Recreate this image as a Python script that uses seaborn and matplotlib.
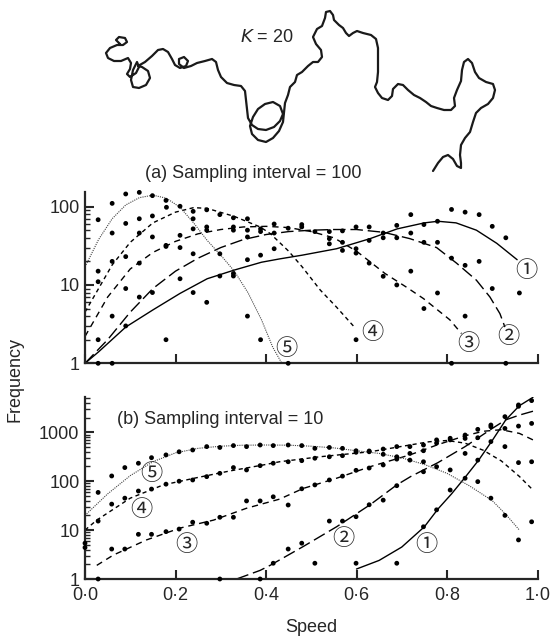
import numpy as np
import pandas as pd
import matplotlib
matplotlib.use("Agg")
import matplotlib.pyplot as plt
import seaborn as sns

# ---- trajectory (K = 20), traced in picture pixels ----
walk_x = [120, 116, 119, 125, 127, 123, 117, 110, 106, 108, 114, 121, 128, 131, 130, 127,
          130, 136, 139, 137, 133, 131, 133, 139, 146, 150, 148, 142, 138, 145, 152, 158,
          163, 168, 172, 175, 180, 186, 188, 184, 179, 179, 184, 191, 197, 205, 212, 216,
          218, 221, 227, 234, 241, 245, 246, 247, 248, 252, 258, 266, 274, 280, 283, 280,
          273, 265, 258, 253, 250, 252, 258, 266, 273, 279, 283, 284, 285, 288, 290, 295,
          297, 302, 308, 313, 318, 322, 321, 316, 313, 317, 322, 325, 326, 330, 333, 334,
          339, 343, 346, 349, 353, 357, 363, 371, 376, 378, 378, 378, 377, 375, 378, 382,
          388, 392, 393, 398, 403, 408, 414, 420, 426, 431, 437, 444, 451, 455, 454, 457,
          461, 462, 464, 468, 472, 475, 479, 486, 493, 495, 493, 488, 481, 476, 473, 470,
          465, 461, 460, 461, 461, 457, 453, 448, 443, 438, 433]
walk_y = [44, 40, 37, 38, 42, 45, 45, 48, 53, 58, 61, 61, 58, 63, 69, 74,
          77, 73, 67, 62, 70, 80, 87, 88, 85, 78, 71, 67, 66, 62, 56, 50,
          49, 52, 59, 65, 68, 66, 61, 57, 59, 64, 68, 66, 63, 61, 59, 62,
          70, 77, 83, 85, 86, 91, 100, 110, 118, 125, 129, 130, 127, 121, 114, 106,
          102, 104, 109, 117, 126, 134, 140, 142, 138, 131, 122, 112, 103, 95, 87, 82,
          75, 72, 66, 62, 62, 57, 50, 44, 37, 29, 26, 18, 12, 11, 15, 20,
          25, 28, 33, 36, 33, 31, 33, 35, 39, 48, 60, 72, 82, 87, 93, 98,
          100, 96, 89, 84, 85, 90, 95, 98, 102, 106, 108, 110, 110, 106, 98, 90,
          81, 70, 62, 59, 63, 72, 78, 82, 84, 90, 98, 104, 108, 113, 122, 132,
          138, 145, 155, 163, 168, 166, 159, 155, 157, 163, 171]

# ---- (a) sampling interval = 100 : fitted curves ----
a1_s = [0.0, 0.03, 0.09, 0.15, 0.21, 0.27, 0.33, 0.39, 0.43, 0.48, 0.556, 0.63, 0.69, 0.75, 0.78, 0.82, 0.865, 0.91, 0.955]
a1_f = [1.0, 1.4, 2.9, 4.8, 7.8, 12, 15.5, 19.5, 21.5, 24, 29, 39, 52, 62, 65, 62, 50, 34, 21]
a2_s = [0.0, 0.05, 0.1, 0.15, 0.2, 0.25, 0.3, 0.35, 0.4, 0.45, 0.5, 0.55, 0.6, 0.66, 0.718, 0.777, 0.821, 0.865, 0.895, 0.917, 0.928]
a2_f = [1.0, 2.0, 4.5, 9, 15, 22, 30, 38, 44, 48, 50, 51, 51, 47, 39, 30, 19, 11.5, 7, 4.3, 2.9]
a3_s = [0.0, 0.05, 0.1, 0.15, 0.2, 0.25, 0.3, 0.35, 0.4, 0.45, 0.5, 0.55, 0.6, 0.663, 0.71, 0.748, 0.806, 0.832]
a3_f = [2.2, 7, 16, 26, 36, 45, 51, 55, 56, 54, 48, 40, 27, 14, 9.4, 6.7, 3.6, 2.4]
a4_s = [0.0, 0.03, 0.06, 0.1, 0.15, 0.2, 0.24, 0.27, 0.33, 0.387, 0.41, 0.45, 0.48, 0.52, 0.556, 0.593]
a4_f = [4.5, 9, 18, 35, 62, 85, 97, 95, 75, 55, 45, 27, 17, 8.6, 5.2, 3.0]
a5_s = [0.0, 0.03, 0.06, 0.09, 0.12, 0.15, 0.18, 0.21, 0.24, 0.27, 0.3, 0.33, 0.36, 0.39, 0.415, 0.435]
a5_f = [17, 38, 70, 105, 130, 140, 128, 98, 62, 37, 24, 15, 8, 3.6, 1.6, 1.0]

a_dot_s = [0.029, 0.06, 0.09, 0.12, 0.149, 0.179, 0.18, 0.21, 0.239, 0.269, 0.298, 0.328, 0.359, 0.418,
           0.06, 0.09, 0.12, 0.149, 0.239, 0.269, 0.269, 0.328, 0.328, 0.359, 0.359, 0.388, 0.388, 0.418, 0.418,
           0.029, 0.029, 0.06, 0.09, 0.12, 0.12, 0.149, 0.179, 0.179, 0.21, 0.21, 0.239, 0.239, 0.298, 0.328,
           0.328, 0.359, 0.388, 0.359, 0.388,
           0.029, 0.06, 0.09, 0.09, 0.12, 0.149, 0.179, 0.21, 0.239, 0.269, 0.298, 0.029, 0.06,
           0.449, 0.479, 0.479, 0.508, 0.54, 0.54, 0.54, 0.569, 0.569, 0.569, 0.599, 0.599, 0.599, 0.628,
           0.628, 0.628, 0.659, 0.659, 0.659, 0.689, 0.689, 0.689, 0.72, 0.72, 0.72, 0.749, 0.749, 0.749,
           0.779, 0.779, 0.779, 0.81, 0.81, 0.81, 0.84, 0.84, 0.84, 0.871, 0.871, 0.90, 0.90, 0.93, 0.93,
           0.96, 0.599, 0.449]
a_dot_f = [68, 110, 145, 152, 138, 120, 98, 101, 87, 91, 79, 72, 70, 60,
           46, 61, 70, 76, 70, 55, 50, 55, 50, 50, 41, 52, 48, 46, 29,
           15, 11, 20, 23, 46, 19, 41, 32, 31, 43, 30, 52, 25, 25, 14,
           13, 21, 24, 4, 2,
           2, 4, 3, 9, 7, 8, 2, 12, 8, 6, 13, 1, 1,
           53, 59, 55, 48, 48, 39, 33.5, 49, 35, 27.6, 55, 29, 25.5, 55,
           37, 19, 46, 40, 12.9, 57.6, 40, 10, 79, 46, 15, 59, 35, 5,
           65, 35, 7.9, 92, 22, 1, 85, 17.8, 4, 79, 20, 56, 9, 40, 1,
           7.9, 2, 1]

# ---- (b) sampling interval = 10 : fitted curves ----
b1_s = [0.6, 0.65, 0.7, 0.75, 0.78, 0.81, 0.84, 0.87, 0.9, 0.93, 0.96, 0.99]
b1_f = [1.6, 2.4, 4.5, 11.7, 27, 55, 120, 270, 680, 1800, 3500, 5200]
b2_s = [0.335, 0.387, 0.409, 0.482, 0.556, 0.63, 0.689, 0.72, 0.78, 0.84, 0.9, 0.93, 0.96, 0.99]
b2_f = [1.0, 1.5, 1.9, 4.6, 11.7, 33, 84, 125, 240, 510, 1200, 1800, 2250, 2700]
b3_s = [0.026, 0.063, 0.136, 0.21, 0.284, 0.357, 0.43, 0.482, 0.556, 0.63, 0.718, 0.78, 0.84, 0.88, 0.92, 0.96, 0.99]
b3_f = [1.9, 3.1, 6.3, 11, 16, 28, 43, 71, 115, 198, 345, 560, 850, 1050, 1130, 950, 700]
b4_s = [0.0, 0.026, 0.1, 0.173, 0.247, 0.32, 0.394, 0.43, 0.519, 0.63, 0.718, 0.76, 0.8, 0.84, 0.88, 0.92, 0.96, 0.99]
b4_f = [10, 16, 45, 84, 118, 162, 215, 250, 316, 400, 550, 640, 680, 600, 430, 260, 125, 66]
b5_s = [0.0, 0.05, 0.1, 0.15, 0.2, 0.25, 0.3, 0.35, 0.4, 0.45, 0.5, 0.55, 0.6, 0.65, 0.7, 0.75, 0.8, 0.85, 0.9, 0.93, 0.96]
b5_f = [20, 55, 130, 250, 380, 470, 520, 545, 550, 545, 520, 480, 420, 370, 300, 220, 145, 80, 40, 21, 10]

b_dot_s = [0.029, 0.059, 0.088, 0.118, 0.147, 0.179, 0.208, 0.238, 0.269, 0.298, 0.328, 0.357, 0.387, 0.416,
           0.029, 0.059, 0.088, 0.118, 0.147, 0.179, 0.208, 0.238, 0.269, 0.298, 0.328, 0.357, 0.387, 0.416,
           0.0, 0.0,
           0.059, 0.088, 0.118, 0.147, 0.179, 0.208, 0.238, 0.269, 0.298, 0.328, 0.357, 0.387, 0.416,
           0.029, 0.298, 0.387, 0.416,
           0.449, 0.479, 0.508, 0.54, 0.569, 0.599, 0.628, 0.659, 0.689,
           0.449, 0.479, 0.508, 0.54, 0.569, 0.599, 0.628, 0.659, 0.689,
           0.449, 0.479, 0.508, 0.54, 0.569, 0.599, 0.628, 0.659, 0.689,
           0.449, 0.479, 0.54, 0.569, 0.599, 0.628, 0.659, 0.689,
           0.508, 0.599, 0.689,
           0.718, 0.718, 0.718, 0.748, 0.748, 0.748, 0.748, 0.748,
           0.777, 0.777, 0.777, 0.777, 0.807, 0.807, 0.807, 0.807,
           0.84, 0.84, 0.84, 0.84, 0.868, 0.868, 0.868, 0.868,
           0.897, 0.897, 0.897, 0.897, 0.928, 0.928, 0.928, 0.928,
           0.958, 0.958, 0.958, 0.958, 0.958, 0.987, 0.987, 0.987, 0.987]
b_dot_f = [59, 128, 190, 233, 303, 345, 400, 435, 510, 490, 535, 510, 550, 535,
           15.3, 34, 45, 63, 69, 87, 100, 106, 124, 145, 190, 170, 208, 233,
           5.4, 4.4,
           4.1, 4.1, 8.2, 8.2, 9.3, 10.5, 14.5, 13.8, 18.3, 18.3, 39.5, 39.5, 48,
           1, 1, 1, 2.1,
           550, 535, 470, 490, 470, 420, 400, 355, 316,
           250, 263, 295, 316, 333, 390, 415, 455, 510,
           32.6, 70, 84, 106, 127, 167, 186, 215, 283,
           4.1, 5.4, 15.3, 15.3, 18.8, 33, 41, 81,
           2.1, 2.1, 2.1,
           510, 370, 270, 550, 420, 250, 156, 11.7,
           700, 600, 198, 26, 755, 700, 170, 66,
           880, 750, 370, 115, 1150, 775, 270, 98,
           1410, 1300, 645, 45, 2090, 1200, 510, 20,
           3630, 3400, 1340, 240, 6.3, 4450, 1520, 250, 14.8]

labels = ["\u2460", "\u2461", "\u2462", "\u2463", "\u2464"]
a_lab_s = [0.976, 0.935, 0.847, 0.634, 0.446]
a_lab_f = [15.5, 2.2, 1.8, 2.45, 1.55]
b_lab_s = [0.755, 0.571, 0.223, 0.125, 0.147]
b_lab_f = [5.0, 6.8, 5.0, 26, 145]

x_ticks = [0.0, 0.2, 0.4, 0.6, 0.8, 1.0]
x_ticklabels = ["0\u00b70", "0\u00b72", "0\u00b74", "0\u00b76", "0\u00b78", "1\u00b70"]

sns.set_style("ticks")
plt.rcParams["font.family"] = ["Liberation Sans", "Noto Sans CJK JP", "DejaVu Sans"]
plt.rcParams["font.size"] = 13

styles = [dict(linestyle="-", lw=1.0, color="black"),
          dict(linestyle=(0, (9, 3.5)), lw=1.0, color="black"),
          dict(linestyle=(0, (4.5, 3.5)), lw=1.0, color="black"),
          dict(linestyle=(0, (3, 2.5)), lw=1.0, color="black"),
          dict(linestyle=(0, (1, 1)), lw=0.8, color="#444444")]

fig = plt.figure(figsize=(5.5, 6.39), dpi=100)

# trajectory
ax_w = fig.add_axes([0, 1 - 180 / 639, 1, 180 / 639])
sns.lineplot(x=walk_x, y=walk_y, ax=ax_w, sort=False, estimator=None, color="#1a1a1a",
             lw=1.6, solid_joinstyle="round", solid_capstyle="round")
ax_w.set_xlim(0, 550)
ax_w.set_ylim(180, 0)
ax_w.axis("off")
ax_w.text(240, 38, "$K$ = 20", fontsize=13, va="center", ha="left")

ax_a = fig.add_axes([85 / 550, (639 - 363.3) / 639, 452.5 / 550, 171.6 / 639])
ax_b = fig.add_axes([85 / 550, (639 - 579) / 639, 452.5 / 550, 181.7 / 639])


def draw_panel(ax, curves, dot_s, dot_f, lab_s, lab_f, ymax, yticks):
    for (cs, cf), st in zip(curves, styles):
        sns.lineplot(x=cs, y=cf, ax=ax, sort=False, estimator=None, **st)
    sns.scatterplot(x=dot_s, y=dot_f, ax=ax, s=12, color="black", edgecolor="none",
                    linewidth=0, clip_on=False, zorder=5)
    for t, xs, yf in zip(labels, lab_s, lab_f):
        ax.text(xs, yf, t, ha="center", va="center", fontsize=16,
                family=["Noto Sans CJK JP", "DejaVu Sans"])
    ax.set_yscale("log")
    ax.set_xlim(0, 1.0)
    ax.set_ylim(1, ymax)
    ax.set_yticks(yticks)
    ax.set_yticklabels([str(v) for v in yticks])
    ax.set_xticks(x_ticks)
    ax.tick_params(which="major", direction="in", length=6.5, width=1.5, pad=4, labelsize=13)
    ax.tick_params(axis="x", which="major", pad=6)
    ax.tick_params(which="minor", direction="in", length=3.5, width=1.0)
    ax.tick_params(axis="x", which="minor", length=0)
    for side in ["top", "right"]:
        ax.spines[side].set_visible(False)
    for side in ["left", "bottom"]:
        ax.spines[side].set_linewidth(1.6)
    ax.set_xlabel("")
    ax.set_ylabel("")


draw_panel(ax_a, [(a1_s, a1_f), (a2_s, a2_f), (a3_s, a3_f), (a4_s, a4_f), (a5_s, a5_f)],
           a_dot_s, a_dot_f, a_lab_s, a_lab_f, 155, [1, 10, 100])
ax_a.set_xticklabels([])

draw_panel(ax_b, [(b1_s, b1_f), (b2_s, b2_f), (b3_s, b3_f), (b4_s, b4_f), (b5_s, b5_f)],
           b_dot_s, b_dot_f, b_lab_s, b_lab_f, 5200, [1, 10, 100, 1000])
ax_b.set_xticklabels(x_ticklabels)

fig.text(145 / 550, 1 - 173 / 639, "(a) Sampling interval = 100", fontsize=13, va="center", ha="left")
fig.text(117 / 550, 1 - 419 / 639, "(b) Sampling interval = 10", fontsize=13, va="center", ha="left")
fig.text(15 / 550, 1 - 380 / 639, "Frequency", rotation=90, fontsize=13, va="center", ha="center")
fig.text(311 / 550, 1 - 627 / 639, "Speed", fontsize=13, va="center", ha="center")

fig.savefig("out.png", dpi=100)
